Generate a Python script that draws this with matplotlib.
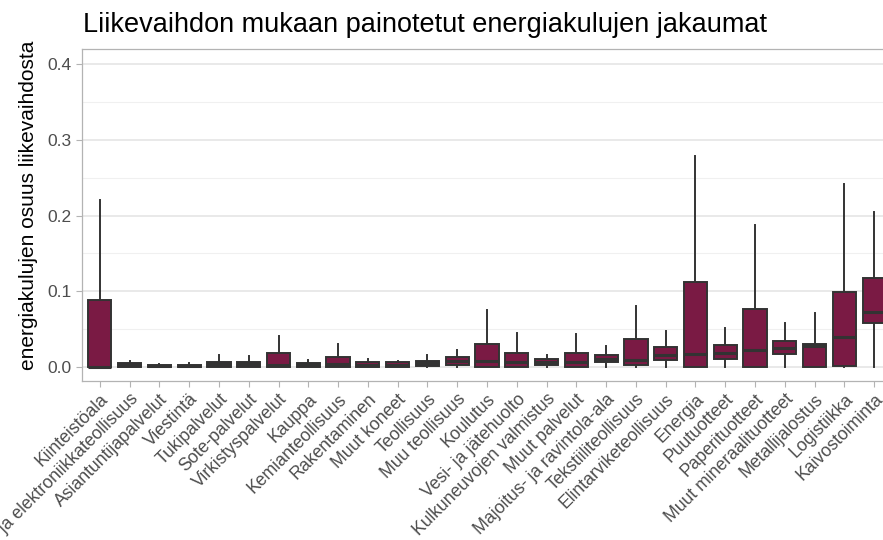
import matplotlib
matplotlib.use("Agg")
import matplotlib.pyplot as plt
from matplotlib.ticker import MultipleLocator

plt.rcParams['font.family'] = ['Liberation Sans', 'DejaVu Sans']

# toimialat ja niiden laatikkokuvion tunnusluvut (luettu kuvasta)
toimialat = ["Kiinteistöala", "Sähkö- ja elektroniikkateollisuus", "Asiantuntijapalvelut",
             "Viestintä", "Tukipalvelut", "Sote-palvelut", "Virkistyspalvelut", "Kauppa",
             "Kemianteollisuus", "Rakentaminen", "Muut koneet", "Teollisuus",
             "Muu teollisuus", "Koulutus", "Vesi- ja jätehuolto", "Kulkuneuvojen valmistus",
             "Muut palvelut", "Majoitus- ja ravintola-ala", "Tekstiiliteollisuus",
             "Elintarviketeollisuus", "Energia", "Puutuotteet", "Paperituotteet",
             "Muut mineraalituotteet", "Metallijalostus", "Logistiikka", "Kaivostoiminta"]
whis_ala = [0, 0, 0, 0, 0, 0, 0, 0, 0, 0, 0, 0,
            0, 0, 0, 0, 0, 0, 0, 0, 0, 0, 0, 0, 0, 0, 0]
q1 = [0, 0, 0, 0, 0, 0, 0, 0, 0, 0, 0, 0.001,
      0.003, 0, 0.0005, 0.002, 0, 0.006, 0.003, 0.009, 0, 0.010, 0, 0.017, 0, 0.001, 0.058]
mediaani = [0, 0.002, 0.001, 0.001, 0.004, 0.004, 0.003, 0.002, 0.004, 0.002, 0.002, 0.005,
            0.008, 0.008, 0.006, 0.006, 0.006, 0.011, 0.009, 0.016, 0.017, 0.019, 0.022, 0.025,
            0.028, 0.039, 0.073]
q3 = [0.088, 0.005, 0.003, 0.003, 0.007, 0.007, 0.018, 0.005, 0.013, 0.006, 0.006, 0.008,
      0.013, 0.031, 0.019, 0.011, 0.019, 0.016, 0.037, 0.026, 0.112, 0.029, 0.077, 0.034,
      0.030, 0.099, 0.118]
whis_yla = [0.220, 0.008, 0.004, 0.005, 0.016, 0.015, 0.041, 0.009, 0.030, 0.010, 0.008, 0.016,
            0.023, 0.075, 0.045, 0.016, 0.044, 0.028, 0.081, 0.047, 0.279, 0.051, 0.187, 0.058,
            0.071, 0.242, 0.205]

stats = []
for i in range(len(toimialat)):
    stats.append({"whislo": whis_ala[i], "q1": q1[i], "med": mediaani[i],
                  "q3": q3[i], "whishi": whis_yla[i], "fliers": []})

fig = plt.figure(figsize=(8.83, 5.40), dpi=100)
ax = fig.add_axes([82 / 883, (540 - 381) / 540, (892 - 82) / 883, (381 - 49) / 540])

edge = "#333333"
ax.bxp(stats, positions=range(len(toimialat)), widths=0.78, patch_artist=True,
       showcaps=False, zorder=3,
       boxprops=dict(facecolor="#7a1a44", edgecolor=edge, linewidth=1.4),
       whiskerprops=dict(color=edge, linewidth=1.4),
       medianprops=dict(color=edge, linewidth=2.2))

ax.set_xlim(-0.6, 26.6)
ax.set_ylim(-0.0185, 0.42)
ax.yaxis.set_minor_locator(MultipleLocator(0.05))
ax.set_yticks([0, 0.1, 0.2, 0.3, 0.4])
ax.set_yticklabels(["0.0", "0.1", "0.2", "0.3", "0.4"])
ax.grid(axis="y", which="major", color="#e3e3e3", linewidth=1.1, zorder=0)
ax.grid(axis="y", which="minor", color="#f0f0f0", linewidth=0.8, zorder=0)
ax.tick_params(axis="y", which="minor", length=0)
ax.tick_params(axis="both", which="major", colors="#b3b3b3", labelcolor="#4d4d4d",
               length=4, width=0.8)
ax.tick_params(axis="y", labelsize=12.5)
ax.tick_params(axis="x", labelsize=12.7, pad=3)
ax.set_xticks(range(len(toimialat)))
ax.set_xticklabels(toimialat, rotation=45, ha="right", rotation_mode="anchor")
for s in ax.spines.values():
    s.set_color("#b3b3b3")
    s.set_linewidth(0.9)

ax.set_ylabel("energiakulujen osuus liikevaihdosta", fontsize=15, color="black")
ax.yaxis.set_label_coords(-0.054, 0.53)
fig.text(83 / 883, 1 - 32 / 540, "Liikevaihdon mukaan painotetut energiakulujen jakaumat",
         fontsize=19.5, color="black", ha="left", va="baseline")

fig.savefig("out.png", dpi=100)
